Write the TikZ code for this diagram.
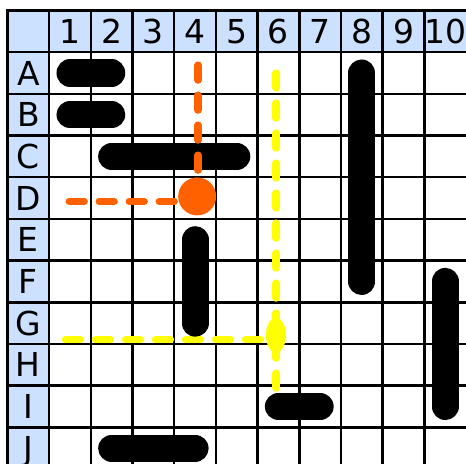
\documentclass[tikz,border=0pt]{standalone}
\usepackage{fontspec}
\newfontfamily\boardfont{DejaVu Sans}
\usetikzlibrary{shapes.geometric}

\definecolor{headblue}{RGB}{204,224,255}
\definecolor{hitorange}{RGB}{255,96,0}
\definecolor{seenyellow}{RGB}{255,255,0}

\begin{document}
\begin{tikzpicture}[
    % --- board styles ---
    headfill/.style={fill=headblue},
    gridline/.style={draw=black, line width=0.06cm},
    border/.style={draw=black, line width=0.075cm},
    head/.style={
        font=\boardfont\fontsize{22.5}{26}\selectfont,
        text height=16.4pt, text depth=0pt, inner sep=0pt},
    % --- marks ---
    ship/.style={draw=black, line width=0.65cm, line cap=round},
    orgdash/.style={draw=hitorange, line width=0.175cm, line cap=round,
        dash pattern=on 0.36cm off 0.36cm},
    yeldash/.style={draw=seenyellow, line width=0.175cm, line cap=round,
        dash pattern=on 0.36cm off 0.36cm},
    hitdot/.style={circle, fill=hitorange, minimum size=0.91cm, inner sep=0pt},
    sighting/.style={ellipse, fill=seenyellow, minimum width=0.48cm,
        minimum height=0.84cm, inner sep=0pt},
]

\useasboundingbox (-0.18,0.252) rectangle (11.0,-10.875);
\clip (-0.18,0.252) rectangle (11.0,-10.875);

% ===== BOARD =====
\fill[headfill] (0,0) rectangle (11,-1);
\fill[headfill] (0,-1) rectangle (1,-11);
\foreach \k in {1,...,10}{
    \draw[gridline] (\k,0) -- (\k,-11);
    \draw[gridline] (0,-\k) -- (11,-\k);
}
\draw[border] (0,-11) -- (0,0) -- (11,0);

% cell centres A1 ... J10
\foreach \r [count=\i] in {A,...,J}{
    \foreach \c in {1,...,10}{
        \coordinate (\r\c) at (\c+0.5,-\i-0.5);
    }
}

% ===== HEADINGS =====
\foreach \c in {1,...,10}{
    \node[head] (col\c) at (\c+0.5,-0.5) {\c};
}
\foreach \r [count=\i] in {A,...,J}{
    \node[head] (row\r) at (0.5,-\i-0.5) {\r};
}

% ===== YELLOW TRACE (under the fleet) =====
\node[sighting] (seen) at ([xshift=-0.06cm, yshift=-0.29cm]G6) {};
\coordinate (yeltop) at ([xshift=-0.06cm]A6);
\coordinate (yelleft) at ([xshift=-0.11cm, yshift=-0.40cm]G1);
\draw[yeldash] (yeltop) -- (yeltop |- I6);
\draw[yeldash] (yelleft) -- (yelleft -| seen.west);

% ===== FLEET =====
\draw[ship] (A1) -- (A2);
\draw[ship] (B1) -- (B2);
\draw[ship] (C2) -- (C5);
\draw[ship] (E4) -- (G4);
\draw[ship] (A8) -- (F8);
\draw[ship] (F10) -- (I10);
\draw[ship] (I6) -- (I7);
\draw[ship] (J2) -- (J4);

% ===== ORANGE HIT =====
\node[hitdot] (hit) at ([xshift=0.05cm, yshift=0.04cm]D4) {};
\coordinate (orgtop) at ([xshift=0.07cm, yshift=0.19cm]A4);
\coordinate (orgleft) at ([xshift=-0.02cm, yshift=-0.08cm]D1);
\draw[orgdash] (orgtop) -- (orgtop |- hit);
\draw[orgdash] (orgleft) -- (orgleft -| hit);

\end{tikzpicture}
\end{document}
